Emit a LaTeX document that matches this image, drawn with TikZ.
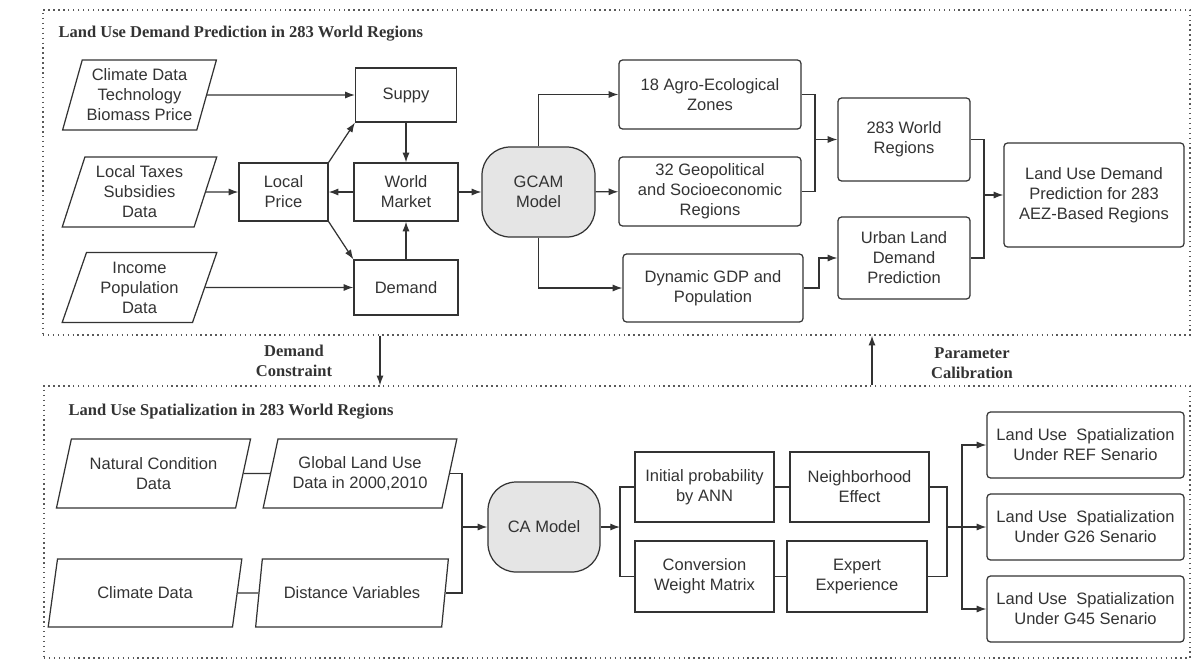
\documentclass[tikz,border=0pt]{standalone}
\usepackage{fontspec}
\setmainfont{Liberation Sans}
\newfontfamily\headfont{Liberation Serif}
\usetikzlibrary{shapes.geometric,arrows.meta}

\begin{document}
\begin{tikzpicture}[x=0.02cm,y=-0.02cm,>={Latex[length=5.5pt,width=4pt]},
		line width=0.7pt,color=black!80,
		every node/.style={font=\fontsize{9.4}{11.4}\selectfont},
		sz/.style 2 args={minimum width=#1*0.02cm, minimum height=#2*0.02cm},
		box/.style={draw, align=center, inner sep=1pt},
		rbox/.style={box, rounded corners=2pt},
		data/.style={box, trapezium, trapezium left angle=72, trapezium right angle=108, trapezium stretches=true, inner xsep=0pt},
		model/.style={box, rounded corners=16pt, fill=gray!20},
		frame/.style={draw=black!65, dotted, line width=0.8pt},
		head/.style={font=\headfont\bfseries\fontsize{9.4}{11.4}\selectfont, align=center, inner sep=0pt}]
		\useasboundingbox (0,0) rectangle (1192,663);
		
		% the two dotted frames
		\node[frame, sz={1147}{325}] (pred) at (616.5,172.5) {};
		\node[frame, sz={1146}{272}] (spat) at (617,522) {};
		\node[head, anchor=west] (predtitle) at (58,34) {Land Use Demand Prediction in 283 World Regions};
		\node[head, anchor=west] (spattitle) at (68,412) {Land Use Spatialization in 283 World Regions};
		
		% demand prediction
		\node[data, sz={155}{70}] (clim) at (139.5,95) {Climate Data\\Technology\\Biomass Price};
		\node[data, sz={155}{70}] (tax) at (139.5,192) {Local Taxes\\Subsidies\\Data};
		\node[data, sz={155}{70}] (inc) at (139.5,287.5) {Income\\Population\\Data};
		\node[box, sz={101}{54}] (sup) at (406,95) {Suppy};
		\node[box, sz={89}{58}] (lp) at (283.5,192) {Local\\Price};
		\node[box, sz={104}{58}] (wm) at (406,192) {World\\Market};
		\node[box, sz={104}{55}] (dem) at (406,287.5) {Demand};
		\node[model, sz={113}{90}] (gcam) at (538.5,192) {GCAM\\Model};
		\node[rbox, sz={182}{69}] (agro) at (710,94.5) {18 Agro-Ecological\\Zones};
		\node[rbox, sz={182}{69}] (geo) at (710,191.5) {32 Geopolitical\\and Socioeconomic\\Regions};
		\node[rbox, sz={180}{68}] (gdp) at (713,288) {Dynamic GDP and\\Population};
		\node[rbox, sz={132}{83}] (wr) at (904,139.5) {283 World\\Regions};
		\node[rbox, sz={132}{82}] (urb) at (904,258) {Urban Land\\Demand\\Prediction};
		\node[rbox, sz={180}{104}] (ludp) at (1094,195) {Land Use Demand\\Prediction for 283\\AEZ-Based Regions};
		
		\draw[->] (clim) -- (sup);
		\draw[->] (tax) -- (lp);
		\draw[->] (inc) -- (dem);
		\draw[->] (lp.north east) -- (sup.south west);
		\draw[->] (lp.south east) -- (dem.north west);
		\draw[->] (sup) -- (wm);
		\draw[->] (wm) -- (lp);
		\draw[->] (dem) -- (wm);
		\draw[->] (wm) -- (gcam);
		\draw[->] (gcam.north) |- (agro.west);
		\draw[->] (gcam) -- (geo);
		\draw[->] (gcam.south) |- (gdp.west);
		\coordinate (j1) at (815,139.5);
		\draw (agro.east) -| (j1) |- (geo.east);
		\draw[->] (j1) -- (wr);
		\coordinate (j2) at (819,258);
		\draw[->] (gdp.east) -| (j2) -- (urb);
		\coordinate (j3) at (984,195);
		\draw (wr.east) -| (j3) |- (urb.east);
		\draw[->] (j3) -- (ludp);
		
		% between the frames
		\coordinate (dc) at (380,0);
		\coordinate (pc) at (872,0);
		\draw[->] (pred.south -| dc) -- (spat.north -| dc);
		\draw[->] (spat.north -| pc) -- (pred.south -| pc);
		\node[head] (dclab) at (294,361) {Demand\\Constraint};
		\node[head] (pclab) at (972,363) {Parameter\\Calibration};
		
		% spatialization
		\node[data, sz={195}{69}] (nat) at (153.5,473.5) {Natural Condition\\Data};
		\node[data, sz={194}{69}] (glu) at (360,473.5) {Global Land Use\\Data in 2000,2010};
		\node[data, sz={194}{68}] (cli) at (145,593) {Climate Data};
		\node[data, sz={194}{68}] (dist) at (352,593) {Distance Variables};
		\node[model, sz={112}{90}] (ca) at (544,527) {CA Model};
		\node[box, sz={139}{70}] (ini) at (704.5,487) {Initial probability\\by ANN};
		\node[box, sz={139}{70}] (nb) at (859.5,487) {Neighborhood\\Effect};
		\node[box, sz={139}{71}] (conv) at (704.5,576.5) {Conversion\\Weight Matrix};
		\node[box, sz={140}{71}] (exp) at (857,576.5) {Expert\\Experience};
		\node[rbox, sz={197}{66}] (ref) at (1085.5,445) {Land Use~ Spatialization\\Under REF Senario};
		\node[rbox, sz={197}{66}] (g26) at (1085.5,527) {Land Use~ Spatialization\\Under G26 Senario};
		\node[rbox, sz={197}{66}] (g45) at (1085.5,609) {Land Use~ Spatialization\\Under G45 Senario};
		
		\draw (nat) -- (glu);
		\draw (cli) -- (dist);
		\coordinate (j4) at (462,527);
		\draw (glu.east) -| (j4) |- (dist.east);
		\draw[->] (j4) -- (ca);
		\coordinate (j5) at (620,527);
		\draw[->] (ca) -- (j5);
		\draw (ini.west) -| (j5) |- (conv.west);
		\draw (ini) -- (nb);
		\draw (conv) -- (exp);
		\coordinate (j6) at (947,527);
		\draw (nb.east) -| (j6) |- (exp.east);
		\coordinate (j7) at (962,527);
		\draw[->] (j6) -- (g26);
		\draw[->] (j7) |- (ref.west);
		\draw[->] (j7) |- (g45.west);
\end{tikzpicture}
\end{document}
